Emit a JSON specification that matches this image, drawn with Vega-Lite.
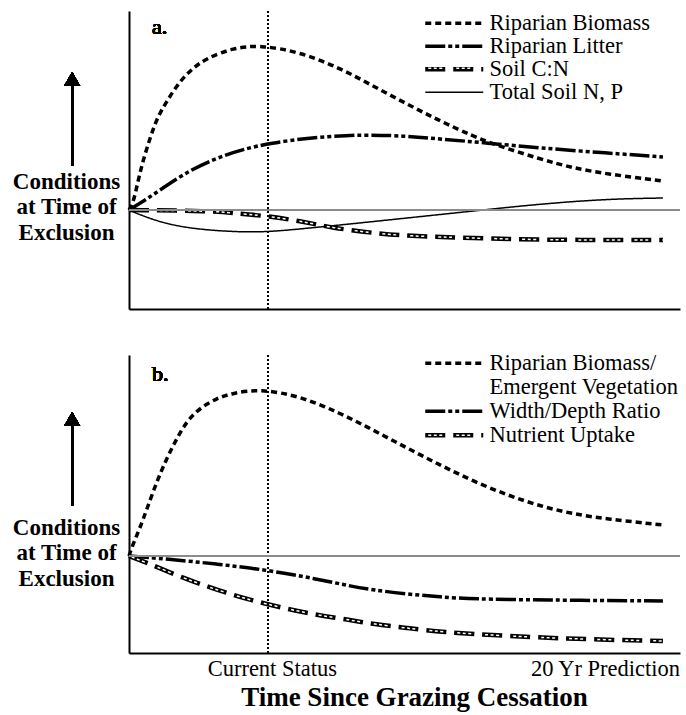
{
  "$schema": "https://vega.github.io/schema/vega-lite/v6.json",
  "padding": {"left": 12, "top": 10, "right": 6, "bottom": 5},
  "background": "white",
  "spacing": 42,
  "resolve": {
    "scale": {"strokeDash": "independent", "strokeWidth": "independent", "stroke": "independent"},
    "legend": {"strokeDash": "independent", "strokeWidth": "independent", "stroke": "independent"}
  },
  "config": {
    "view": {"stroke": null},
    "font": "Liberation Serif",
    "axis": {"grid": false, "domainColor": "black", "domainWidth": 2, "ticks": false, "tickSize": 0, "labelColor": "black", "titleColor": "black"}
  },
  "datasets": {
    "a": [
      {"s": "Riparian Biomass", "t": 0, "v": 0},
      {"s": "Riparian Biomass", "t": 0.15, "v": 6},
      {"s": "Riparian Biomass", "t": 0.34, "v": 29},
      {"s": "Riparian Biomass", "t": 0.52, "v": 49},
      {"s": "Riparian Biomass", "t": 0.79, "v": 72},
      {"s": "Riparian Biomass", "t": 1.05, "v": 92},
      {"s": "Riparian Biomass", "t": 1.42, "v": 109},
      {"s": "Riparian Biomass", "t": 1.91, "v": 129},
      {"s": "Riparian Biomass", "t": 2.4, "v": 142},
      {"s": "Riparian Biomass", "t": 2.92, "v": 152},
      {"s": "Riparian Biomass", "t": 3.9, "v": 162},
      {"s": "Riparian Biomass", "t": 4.9, "v": 165},
      {"s": "Riparian Biomass", "t": 6.4, "v": 158},
      {"s": "Riparian Biomass", "t": 7.9, "v": 142},
      {"s": "Riparian Biomass", "t": 9.14, "v": 124},
      {"s": "Riparian Biomass", "t": 10.41, "v": 106},
      {"s": "Riparian Biomass", "t": 11.65, "v": 89},
      {"s": "Riparian Biomass", "t": 12.88, "v": 74},
      {"s": "Riparian Biomass", "t": 13.63, "v": 66},
      {"s": "Riparian Biomass", "t": 15.39, "v": 51},
      {"s": "Riparian Biomass", "t": 16.63, "v": 42},
      {"s": "Riparian Biomass", "t": 17.9, "v": 36},
      {"s": "Riparian Biomass", "t": 20, "v": 29},
      {"s": "Riparian Litter", "t": 0, "v": 0},
      {"s": "Riparian Litter", "t": 0.3, "v": 5},
      {"s": "Riparian Litter", "t": 0.79, "v": 13},
      {"s": "Riparian Litter", "t": 2.02, "v": 36},
      {"s": "Riparian Litter", "t": 3.3, "v": 53},
      {"s": "Riparian Litter", "t": 5.17, "v": 68},
      {"s": "Riparian Litter", "t": 8.28, "v": 76},
      {"s": "Riparian Litter", "t": 10.41, "v": 74},
      {"s": "Riparian Litter", "t": 11.65, "v": 71},
      {"s": "Riparian Litter", "t": 13.41, "v": 67},
      {"s": "Riparian Litter", "t": 15.39, "v": 62},
      {"s": "Riparian Litter", "t": 17.9, "v": 57},
      {"s": "Riparian Litter", "t": 20, "v": 53},
      {"s": "Soil C:N", "t": 0, "v": 0},
      {"s": "Soil C:N", "t": 3.15, "v": -1},
      {"s": "Soil C:N", "t": 3.9, "v": -3},
      {"s": "Soil C:N", "t": 5.17, "v": -6},
      {"s": "Soil C:N", "t": 6.4, "v": -11},
      {"s": "Soil C:N", "t": 7.64, "v": -18},
      {"s": "Soil C:N", "t": 9.14, "v": -23},
      {"s": "Soil C:N", "t": 10.41, "v": -26},
      {"s": "Soil C:N", "t": 12.88, "v": -28},
      {"s": "Soil C:N", "t": 15.39, "v": -30},
      {"s": "Soil C:N", "t": 20, "v": -30},
      {"s": "Total Soil N, P", "t": 0, "v": 0},
      {"s": "Total Soil N, P", "t": 0.79, "v": -9},
      {"s": "Total Soil N, P", "t": 2.02, "v": -18},
      {"s": "Total Soil N, P", "t": 3.9, "v": -22},
      {"s": "Total Soil N, P", "t": 5.17, "v": -22},
      {"s": "Total Soil N, P", "t": 6.4, "v": -19},
      {"s": "Total Soil N, P", "t": 8.28, "v": -14},
      {"s": "Total Soil N, P", "t": 10.41, "v": -8},
      {"s": "Total Soil N, P", "t": 13.26, "v": 0},
      {"s": "Total Soil N, P", "t": 15.39, "v": 6},
      {"s": "Total Soil N, P", "t": 17.9, "v": 11},
      {"s": "Total Soil N, P", "t": 20, "v": 12}
    ],
    "b": [
      {"s": "Riparian Biomass/", "t": 0, "v": 0},
      {"s": "Riparian Biomass/", "t": 0.15, "v": 12},
      {"s": "Riparian Biomass/", "t": 0.41, "v": 28},
      {"s": "Riparian Biomass/", "t": 0.67, "v": 47},
      {"s": "Riparian Biomass/", "t": 1.05, "v": 75},
      {"s": "Riparian Biomass/", "t": 1.42, "v": 98},
      {"s": "Riparian Biomass/", "t": 1.8, "v": 118},
      {"s": "Riparian Biomass/", "t": 2.17, "v": 135},
      {"s": "Riparian Biomass/", "t": 2.66, "v": 148},
      {"s": "Riparian Biomass/", "t": 3.3, "v": 158},
      {"s": "Riparian Biomass/", "t": 3.9, "v": 163},
      {"s": "Riparian Biomass/", "t": 4.9, "v": 167},
      {"s": "Riparian Biomass/", "t": 6.4, "v": 160},
      {"s": "Riparian Biomass/", "t": 7.9, "v": 143},
      {"s": "Riparian Biomass/", "t": 9.14, "v": 126},
      {"s": "Riparian Biomass/", "t": 10.41, "v": 108},
      {"s": "Riparian Biomass/", "t": 11.65, "v": 91},
      {"s": "Riparian Biomass/", "t": 12.88, "v": 75},
      {"s": "Riparian Biomass/", "t": 14.16, "v": 61},
      {"s": "Riparian Biomass/", "t": 15.39, "v": 50},
      {"s": "Riparian Biomass/", "t": 16.63, "v": 42},
      {"s": "Riparian Biomass/", "t": 17.9, "v": 37},
      {"s": "Riparian Biomass/", "t": 20, "v": 31},
      {"s": "Width/Depth Ratio", "t": 0, "v": 0},
      {"s": "Width/Depth Ratio", "t": 1.42, "v": -3},
      {"s": "Width/Depth Ratio", "t": 3.3, "v": -8},
      {"s": "Width/Depth Ratio", "t": 5.17, "v": -14},
      {"s": "Width/Depth Ratio", "t": 7.04, "v": -23},
      {"s": "Width/Depth Ratio", "t": 8.28, "v": -30},
      {"s": "Width/Depth Ratio", "t": 9.14, "v": -34},
      {"s": "Width/Depth Ratio", "t": 10.41, "v": -38},
      {"s": "Width/Depth Ratio", "t": 11.65, "v": -41},
      {"s": "Width/Depth Ratio", "t": 12.88, "v": -43},
      {"s": "Width/Depth Ratio", "t": 15.39, "v": -44},
      {"s": "Width/Depth Ratio", "t": 20, "v": -45},
      {"s": "Nutrient Uptake", "t": 0, "v": 0},
      {"s": "Nutrient Uptake", "t": 0.79, "v": -8},
      {"s": "Nutrient Uptake", "t": 2.02, "v": -22},
      {"s": "Nutrient Uptake", "t": 3.3, "v": -34},
      {"s": "Nutrient Uptake", "t": 4.53, "v": -44},
      {"s": "Nutrient Uptake", "t": 5.77, "v": -52},
      {"s": "Nutrient Uptake", "t": 7.04, "v": -59},
      {"s": "Nutrient Uptake", "t": 8.28, "v": -64},
      {"s": "Nutrient Uptake", "t": 9.14, "v": -68},
      {"s": "Nutrient Uptake", "t": 10.41, "v": -72},
      {"s": "Nutrient Uptake", "t": 11.65, "v": -76},
      {"s": "Nutrient Uptake", "t": 14.16, "v": -80},
      {"s": "Nutrient Uptake", "t": 16.63, "v": -83},
      {"s": "Nutrient Uptake", "t": 20, "v": -85}
    ]
  },
  "vconcat": [
    {
      "width": 551,
      "height": 298,
      "data": {"name": "a"},
      "layer": [
        {
          "mark": {"type": "rule", "color": "black", "strokeWidth": 1, "strokeDash": [2, 2]},
          "encoding": {"x": {"datum": 5.2, "type": "quantitative"}}
        },
        {
          "mark": {"type": "line", "interpolate": "basis", "color": "black", "strokeCap": "butt"},
          "encoding": {
            "x": {"field": "t", "type": "quantitative", "scale": {"domain": [0, 20.64], "nice": false, "zero": false}, "axis": {"labels": false, "title": null}},
            "y": {"field": "v", "type": "quantitative", "scale": {"domain": [-99, 199], "nice": false, "zero": false},
              "axis": {"values": [0], "labelExpr": "['Conditions', 'at Time of', 'Exclusion']", "labelFont": "Liberation Serif", "labelFontWeight": "bold", "labelFontSize": 23, "labelLineHeight": 25.5, "labelAlign": "center", "labelBaseline": "middle", "labelOffset": -29, "labelPadding": 63, "title": null}},
            "strokeDash": {"field": "s", "type": "nominal",
              "scale": {"domain": ["Riparian Biomass", "Riparian Litter", "Soil C:N", "Total Soil N, P"], "range": [[6, 4], [20, 3, 4, 3, 4, 3], [20, 8], [1, 0]]},
              "legend": {"orient": "none", "legendX": 293, "legendY": 1, "title": null, "symbolType": "M-1,0H6.25", "symbolSize": 256, "symbolStrokeColor": "black", "symbolFillColor": "transparent", "labelFont": "Liberation Serif", "labelFontSize": 22.5, "labelColor": "black", "labelOffset": 45, "rowPadding": -1, "padding": 0, "labelLimit": 400}},
            "strokeWidth": {"field": "s", "type": "ordinal",
              "scale": {"type": "ordinal", "domain": ["Riparian Biomass", "Riparian Litter", "Soil C:N", "Total Soil N, P"], "range": [3.5, 3.5, 4.5, 1.5]},
              "legend": {"orient": "none", "legendX": 293, "legendY": 1, "title": null, "symbolType": "M-1,0H6.25", "symbolSize": 256, "symbolStrokeColor": "black", "symbolFillColor": "transparent", "labelFont": "Liberation Serif", "labelFontSize": 22.5, "labelColor": "black", "labelOffset": 45, "rowPadding": -1, "padding": 0, "labelLimit": 400}}
          }
        },
        {
          "transform": [{"filter": "datum.s == 'Soil C:N'"}],
          "mark": {"type": "line", "interpolate": "basis", "strokeWidth": 1.5, "strokeDash": [3, 2.5, 3, 2.5, 3, 14], "strokeDashOffset": 25, "strokeCap": "butt"},
          "encoding": {
            "x": {"field": "t", "type": "quantitative"},
            "y": {"field": "v", "type": "quantitative"},
            "stroke": {"field": "s", "type": "nominal", "scale": {"domain": ["Soil C:N"], "range": ["white"]},
              "legend": {"orient": "none", "legendX": 293, "legendY": 46, "title": null, "symbolType": "M-1,0H6.25", "symbolSize": 256, "symbolStrokeWidth": 1.5, "symbolDash": [3, 2.5, 3, 2.5, 3, 14], "symbolDashOffset": 25, "labelExpr": "''", "labelFont": "Liberation Serif", "labelFontSize": 22.5, "labelOffset": 45, "rowPadding": 0, "padding": 0}}
          }
        },
        {
          "mark": {"type": "rule", "color": "#8c8c8c", "strokeWidth": 1.5},
          "encoding": {"y": {"datum": 0, "type": "quantitative"}}
        },
        {
          "mark": {"type": "rule", "color": "black", "strokeWidth": 2},
          "encoding": {"x": {"datum": -2.13, "type": "quantitative"}, "y": {"datum": 44, "type": "quantitative"}, "y2": {"datum": 128}}
        },
        {
          "mark": {"type": "point", "shape": "triangle-up", "filled": true, "color": "black", "size": 256, "opacity": 1},
          "encoding": {"x": {"datum": -2.13, "type": "quantitative"}, "y": {"datum": 131, "type": "quantitative"}}
        },
        {
          "mark": {"type": "text", "text": "a.", "align": "left", "baseline": "alphabetic", "fontSize": 22, "fontWeight": "normal", "font": "Liberation Serif", "color": "black"},
          "encoding": {"x": {"datum": 0.86, "type": "quantitative"}, "y": {"datum": 176, "type": "quantitative"}}
        }
      ]
    },
    {
      "width": 551,
      "height": 298,
      "data": {"name": "b"},
      "layer": [
        {
          "mark": {"type": "rule", "color": "black", "strokeWidth": 1, "strokeDash": [2, 2]},
          "encoding": {"x": {"datum": 5.2, "type": "quantitative"}}
        },
        {
          "mark": {"type": "line", "interpolate": "basis", "color": "black", "strokeCap": "butt"},
          "encoding": {
            "x": {"field": "t", "type": "quantitative", "scale": {"domain": [0, 20.64], "nice": false, "zero": false},
              "axis": {"values": [5.35, 17.83], "labelExpr": "datum.value < 10 ? 'Current Status' : '20 Yr Prediction'", "labelFont": "Liberation Serif", "labelFontSize": 22.5, "labelPadding": 4, "title": "Time Since Grazing Cessation", "titleFont": "Liberation Serif", "titleFontSize": 27, "titleFontWeight": "bold", "titlePadding": 5, "titleX": 285}},
            "y": {"field": "v", "type": "quantitative", "scale": {"domain": [-97, 201], "nice": false, "zero": false},
              "axis": {"values": [0], "labelExpr": "['Conditions', 'at Time of', 'Exclusion']", "labelFont": "Liberation Serif", "labelFontWeight": "bold", "labelFontSize": 23, "labelLineHeight": 25.5, "labelAlign": "center", "labelBaseline": "middle", "labelOffset": -29, "labelPadding": 63, "title": null}},
            "strokeDash": {"field": "s", "type": "nominal",
              "scale": {"domain": ["Riparian Biomass/", "Emergent Vegetation", "Width/Depth Ratio", "Nutrient Uptake"], "range": [[6, 4], [1, 0], [20, 3, 4, 3, 4, 3], [20, 8]]},
              "legend": {"orient": "none", "legendX": 293, "legendY": -3, "title": null, "symbolType": "M-1,0H6.25", "symbolSize": 256, "symbolStrokeColor": "black", "symbolFillColor": "transparent", "labelFont": "Liberation Serif", "labelFontSize": 22.5, "labelColor": "black", "labelOffset": 45, "rowPadding": 1, "padding": 0, "labelLimit": 400}},
            "strokeWidth": {"field": "s", "type": "ordinal",
              "scale": {"type": "ordinal", "domain": ["Riparian Biomass/", "Emergent Vegetation", "Width/Depth Ratio", "Nutrient Uptake"], "range": [3.5, 0, 3.5, 4.5]},
              "legend": {"orient": "none", "legendX": 293, "legendY": -3, "title": null, "symbolType": "M-1,0H6.25", "symbolSize": 256, "symbolStrokeColor": "black", "symbolFillColor": "transparent", "labelFont": "Liberation Serif", "labelFontSize": 22.5, "labelColor": "black", "labelOffset": 45, "rowPadding": 1, "padding": 0, "labelLimit": 400}}
          }
        },
        {
          "transform": [{"filter": "datum.s == 'Nutrient Uptake'"}],
          "mark": {"type": "line", "interpolate": "basis", "strokeWidth": 1.5, "strokeDash": [3, 2.5, 3, 2.5, 3, 14], "strokeDashOffset": 25, "strokeCap": "butt"},
          "encoding": {
            "x": {"field": "t", "type": "quantitative"},
            "y": {"field": "v", "type": "quantitative"},
            "stroke": {"field": "s", "type": "nominal", "scale": {"domain": ["Nutrient Uptake"], "range": ["white"]},
              "legend": {"orient": "none", "legendX": 293, "legendY": 69, "title": null, "symbolType": "M-1,0H6.25", "symbolSize": 256, "symbolStrokeWidth": 1.5, "symbolDash": [3, 2.5, 3, 2.5, 3, 14], "symbolDashOffset": 25, "labelExpr": "''", "labelFont": "Liberation Serif", "labelFontSize": 22.5, "labelOffset": 45, "rowPadding": 0, "padding": 0}}
          }
        },
        {
          "mark": {"type": "rule", "color": "#8c8c8c", "strokeWidth": 1.5},
          "encoding": {"y": {"datum": 0, "type": "quantitative"}}
        },
        {
          "mark": {"type": "rule", "color": "black", "strokeWidth": 2},
          "encoding": {"x": {"datum": -2.13, "type": "quantitative"}, "y": {"datum": 50, "type": "quantitative"}, "y2": {"datum": 134}}
        },
        {
          "mark": {"type": "point", "shape": "triangle-up", "filled": true, "color": "black", "size": 256, "opacity": 1},
          "encoding": {"x": {"datum": -2.13, "type": "quantitative"}, "y": {"datum": 137, "type": "quantitative"}}
        },
        {
          "mark": {"type": "text", "text": "b.", "align": "left", "baseline": "alphabetic", "fontSize": 22, "fontWeight": "normal", "font": "Liberation Serif", "color": "black"},
          "encoding": {"x": {"datum": 0.86, "type": "quantitative"}, "y": {"datum": 175, "type": "quantitative"}}
        }
      ]
    }
  ]
}
